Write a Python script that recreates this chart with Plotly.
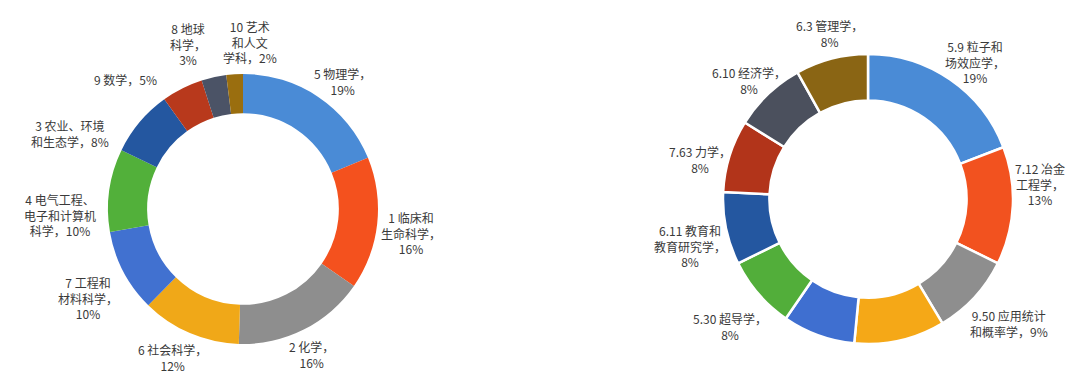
import math
import plotly.graph_objects as go

W, H = 1074, 374

# Left chart data (clockwise from 12 o'clock)
left_labels = ["5 物理学", "1 临床和生命科学", "2 化学", "6 社会科学", "7 工程和材料科学",
               "4 电气工程、电子和计算机科学", "3 农业、环境和生态学", "9 数学", "8 地球科学", "10 艺术和人文学科"]
left_values = [19, 16, 16, 12, 10, 10, 8, 5, 3, 2]
left_text = ["5 物理学，<br>19%", "1 临床和<br>生命科学，<br>16%", "2 化学，<br>16%", "6 社会科学，<br>12%",
             "7 工程和<br>材料科学，<br>10%", "4 电气工程、<br>电子和计算机<br>科学，10%",
             "3 农业、环境<br>和生态学，8%", "9 数学，5%", "8 地球<br>科学，<br>3%", "10 艺术<br>和人文<br>学科，2%"]
left_colors = ["#4A8BD6", "#F4511E", "#8E8E8E", "#F0A818", "#4171D0",
               "#52B03A", "#2457A0", "#B8391C", "#4B5366", "#9A6E0F"]

# Right chart data (clockwise from 12 o'clock)
right_labels = ["5.9 粒子和场效应学", "7.12 冶金工程学", "9.50 应用统计和概率学", "其他1", "其他2",
                "5.30 超导学", "6.11 教育和教育研究学", "7.63 力学", "6.10 经济学", "6.3 管理学"]
right_values = [19, 13, 9, 10, 8, 8, 8, 8, 8, 8]
right_text = ["5.9 粒子和<br>场效应学，<br>19%", "7.12 冶金<br>工程学，<br>13%", "9.50 应用统计<br>和概率学，9%",
              "", "", "5.30 超导学，<br>8%", "6.11 教育和<br>教育研究学，<br>8%", "7.63 力学，<br>8%",
              "6.10 经济学，<br>8%", "6.3 管理学，<br>8%"]
right_colors = ["#4A8BD6", "#F2521F", "#8E8E8E", "#F5A817", "#3F6FD0",
                "#52AE3A", "#2457A0", "#B2341A", "#4B505D", "#8A6514"]

# label placement nudges (angle deg, radius px), like Excel's best-fit labels
left_nudge = [(4, 0), (2, -3), (1.6, 1), (2.4, 5), (-2.2, 2), (-9.8, 4), (-16.5, 8), (-15.6, 22), (-6, 7), (6, 2)]
right_nudge = [(3.5, -3), (-7.7, -4), (-1.3, 18), (0, 0), (0, 0), (-2, 18), (-3, 0), (-4, -11), (-1.4, -1), (1.3, 7)]

# geometry in pixels (center x, center y from top, radius)
LC = (243, 209, 135)
RC = (868, 199, 145)
FS = 12


def dom(c):
    cx, cy, r = c
    return dict(x=[(cx - r) / W, (cx + r) / W], y=[(H - cy - r) / H, (H - cy + r) / H])


fig = go.Figure()
fig.add_trace(go.Pie(labels=left_labels, values=left_values, hole=0.71, sort=False,
                     direction="clockwise", rotation=0, textinfo="none",
                     marker=dict(colors=left_colors, line=dict(width=0)),
                     domain=dom(LC), showlegend=False))
fig.add_trace(go.Pie(labels=right_labels, values=right_values, hole=0.68, sort=False,
                     direction="clockwise", rotation=0, textinfo="none",
                     marker=dict(colors=right_colors, line=dict(color="white", width=2.5)),
                     domain=dom(RC), showlegend=False))


def text_w(s):
    return sum(FS if ord(ch) > 0x2E80 else 0.6 * FS for ch in s)


def add_labels(values, texts, nudges, c, gap):
    cx, cy, r = c
    total = sum(values)
    cum = 0
    for v, t, (da, dr) in zip(values, texts, nudges):
        mid = (cum + v / 2) / total * 360
        cum += v
        if not t:
            continue
        lines = t.split("<br>")
        a = max(text_w(s) for s in lines) / 2
        b = len(lines) * 1.3 * FS / 2
        ang = math.radians(mid + da)
        s, co = abs(math.sin(ang)), abs(math.cos(ang))
        ext = min(a / s if s > 1e-6 else 1e9, b / co if co > 1e-6 else 1e9)
        d = r + gap + ext + dr
        x = cx + d * math.sin(ang)
        y = cy - d * math.cos(ang)
        fig.add_annotation(x=x / W, y=1 - y / H, xref="paper", yref="paper", text=t,
                           showarrow=False, xanchor="center", yanchor="middle", align="center",
                           font=dict(family="Noto Sans CJK SC", size=FS, color="#3A3A3A"))


add_labels(left_values, left_text, left_nudge, LC, 7)
add_labels(right_values, right_text, right_nudge, RC, 2)

fig.update_layout(width=W, height=H, margin=dict(l=0, r=0, t=0, b=0),
                  paper_bgcolor="white", plot_bgcolor="white")
fig.write_html("out.html")
